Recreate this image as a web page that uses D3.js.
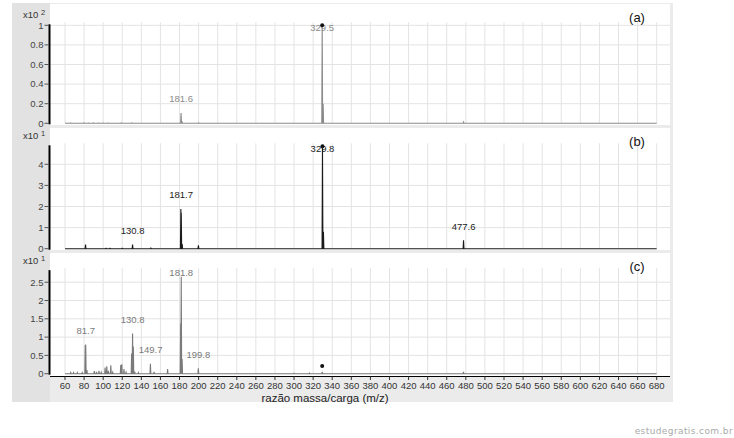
<!DOCTYPE html>
<html><head><meta charset="utf-8">
<script src="https://cdn.jsdelivr.net/npm/d3@7"></script>
<style>body{margin:0;background:#fff}svg{display:block}</style>
</head><body><svg id="chart" width="734" height="438"></svg>
<script>
// ---------- data ----------
const mzTicks = [60,80,100,120,140,160,180,200,220,240,260,280,300,320,340,360,380,400,420,440,460,480,500,520,540,560,580,600,620,640,660,680];
const panelNames = ["(a)", "(b)", "(c)"];
const panelExponents = ["2", "1", "1"];
const yTicksA = [0, 0.2, 0.4, 0.6, 0.8, 1];
const yTicksB = [0, 1, 2, 3, 4];
const yTicksC = [0, 0.5, 1, 1.5, 2, 2.5];
const yTickLabelsA = ["0", "0.2", "0.4", "0.6", "0.8", "1"];
const yTickLabelsB = ["0", "1", "2", "3", "4"];
const yTickLabelsC = ["0", "0.5", "1", "1.5", "2", "2.5"];
// peaks [m/z, intensity]
const peaksA = [[66,0.003],[80,0.005],[85,0.004],[90,0.005],[95,0.004],[100,0.004],[105,0.003],[119,0.005],[130,0.005],[181.6,0.105],[182.6,0.02],[200,0.005],[329.5,1.0],[330.5,0.2],[477.6,0.012]];
const peaksB = [[81.5,0.2],[103,0.02],[107,0.02],[120,0.02],[130.8,0.2],[150,0.03],[181.4,1.88],[181.8,1.7],[182.8,0.22],[199.8,0.16],[329.8,4.85],[330.8,0.8],[477.6,0.4]];
const peaksC = [[66,0.03],[69,0.03],[73,0.03],[78,0.03],[81.2,0.78],[81.7,0.8],[83,0.1],[90.7,0.07],[93,0.05],[95.6,0.08],[98,0.04],[102,0.17],[103.8,0.2],[105.5,0.08],[108,0.23],[110,0.04],[118.4,0.24],[119.5,0.26],[121.8,0.13],[124,0.04],[129.8,0.55],[130.8,1.1],[131.6,0.74],[133,0.06],[137,0.03],[149.5,0.27],[153.3,0.05],[167.5,0.13],[181.2,1.38],[181.8,2.65],[182.7,0.4],[199.7,0.15],[300,0.01],[316,0.02],[329.5,0.05],[477.5,0.05]];
// peak labels [m/z, intensity of labelled peak, text]
const labelsA = [[181.6,0.105,"181.6"],[329.5,1.0,"329.5"]];
const labelsB = [[130.8,0.2,"130.8"],[181.7,1.88,"181.7"],[329.8,4.85,"329.8"],[477.6,0.4,"477.6"]];
const labelsC = [[81.7,0.8,"81.7"],[130.8,1.1,"130.8"],[149.7,0.27,"149.7"],[181.8,2.65,"181.8"],[199.8,0.15,"199.8"]];
// marked peaks (black dot) [m/z, intensity]
const markA = [[329.5,1.0]];
const markB = [[329.8,4.85]];
const markC = [[329.5,0.21]];
const xTitle = "razão massa/carga (m/z)";
const watermark = "estudegratis.com.br";

// ---------- layout ----------
const svg = d3.select("#chart");
const x = d3.scaleLinear().domain([60, 680]).range([65, 656.7]);
const panels = [
  {peaks: peaksA, labels: labelsA, marks: markA, ticks: yTicksA, tl: yTickLabelsA, ymax: 1.01, yBase: 123.3, yUnitPx: 98, top: 4, bottom: 125, color: "#8a8a8a", labelColor: "#8a8a8a"},
  {peaks: peaksB, labels: labelsB, marks: markB, ticks: yTicksB, tl: yTickLabelsB, ymax: 4.9, yBase: 248.7, yUnitPx: 21.1, top: 128, bottom: 250, color: "#1a1a1a", labelColor: "#222"},
  {peaks: peaksC, labels: labelsC, marks: markC, ticks: yTicksC, tl: yTickLabelsC, ymax: 2.83, yBase: 373.7, yUnitPx: 36.6, top: 253, bottom: 376, color: "#7a7a7a", labelColor: "#7a7a7a"}
];
const plotL = 50, plotR = 670;

// frame background
svg.append("rect").attr("x", 12).attr("y", 3).attr("width", 661).attr("height", 399).attr("fill", "#ebebeb");
svg.append("rect").attr("x", 12).attr("y", 3).attr("width", 38).attr("height", 399).attr("fill", "#e2e2e2");

const font = "Arial, 'Liberation Sans', sans-serif";

panels.forEach((p, i) => {
  const y = d3.scaleLinear().domain([0, p.ymax]).range([p.yBase, p.yBase - p.ymax * p.yUnitPx]);
  const g = svg.append("g");
  g.append("rect").attr("x", plotL).attr("y", p.top).attr("width", plotR - plotL).attr("height", p.bottom - p.top).attr("fill", "#fff");
  // grid
  g.selectAll(".hg").data(p.ticks.filter(t => t > 0)).enter().append("line")
    .attr("x1", plotL).attr("x2", plotR).attr("y1", d => y(d)).attr("y2", d => y(d))
    .attr("stroke", "#e3e3e3").attr("stroke-width", 1);
  g.selectAll(".vg").data(mzTicks).enter().append("line")
    .attr("x1", d => x(d)).attr("x2", d => x(d)).attr("y1", y(p.ymax) - 2).attr("y2", p.yBase)
    .attr("stroke", "#e3e3e3").attr("stroke-width", 1);
  // y axis
  g.append("line").attr("x1", 49.5).attr("x2", 49.5).attr("y1", y(p.ymax)).attr("y2", p.yBase + 1)
    .attr("stroke", "#000").attr("stroke-width", 2);
  p.ticks.forEach((t, k) => {
    g.append("line").attr("x1", 44.5).attr("x2", 49).attr("y1", y(t)).attr("y2", y(t)).attr("stroke", "#555");
    g.append("text").attr("x", 43.5).attr("y", y(t)).attr("dy", "0.35em").attr("text-anchor", "end")
      .attr("font-family", font).attr("font-size", 9.5).attr("fill", "#444").text(p.tl[k]);
  });
  // exponent
  const ex = g.append("text").attr("x", 23).attr("y", y(p.ymax) - 6).attr("font-family", font).attr("font-size", 9.5).attr("fill", "#333").text("x10 ");
  ex.append("tspan").attr("dy", -3).attr("font-size", 7.5).text(panelExponents[i]);
  // trace
  const pts = [[60, 0]];
  p.peaks.slice().sort((a, b) => a[0] - b[0]).forEach(([m, v]) => { pts.push([m - 0.45, 0], [m, v], [m + 0.45, 0]); });
  pts.push([680, 0]);
  g.append("path").datum(pts).attr("fill", "none").attr("stroke", p.color).attr("stroke-width", 1.1)
    .attr("d", d3.line().x(d => x(d[0])).y(d => y(d[1])));
  // labels
  g.selectAll(".lb").data(p.labels).enter().append("text")
    .attr("x", d => x(d[0])).attr("y", d => Math.max(y(d[1]) - 14, y(p.ymax) + 3)).attr("dy", "0.35em")
    .attr("text-anchor", "middle").attr("font-family", font).attr("font-size", 9.5).attr("fill", p.labelColor).text(d => d[2]);
  // marks
  g.selectAll(".mk").data(p.marks).enter().append("circle")
    .attr("cx", d => x(d[0])).attr("cy", d => y(d[1])).attr("r", 2).attr("fill", "#111");
  // panel name
  g.append("text").attr("x", 637).attr("y", p.top + 18).attr("text-anchor", "middle")
    .attr("font-family", font).attr("font-size", 13).attr("fill", "#111").text(panelNames[i]);
});

// x axis on bottom panel
svg.append("line").attr("x1", plotL).attr("x2", plotR).attr("y1", 376.5).attr("y2", 376.5).attr("stroke", "#000").attr("stroke-width", 1);
svg.selectAll(".xt").data(mzTicks).enter().append("line")
  .attr("x1", d => x(d)).attr("x2", d => x(d)).attr("y1", 376.5).attr("y2", 380).attr("stroke", "#333");
svg.selectAll(".xl").data(mzTicks).enter().append("text")
  .attr("x", d => x(d)).attr("y", 385.5).attr("dy", "0.35em").attr("text-anchor", "middle")
  .attr("font-family", font).attr("font-size", 9.5).attr("fill", "#333").text(d => d);
svg.append("text").attr("x", 325).attr("y", 397.5).attr("dy", "0.35em").attr("text-anchor", "middle")
  .attr("font-family", font).attr("font-size", 11.5).attr("fill", "#222").text(xTitle);
svg.append("text").attr("x", 733).attr("y", 431).attr("dy", "0.35em").attr("text-anchor", "end")
  .attr("font-family", "'DejaVu Sans', Verdana, sans-serif").attr("font-size", 9).attr("letter-spacing", 0.4).attr("fill", "#aaa").text(watermark);
</script></body></html>
